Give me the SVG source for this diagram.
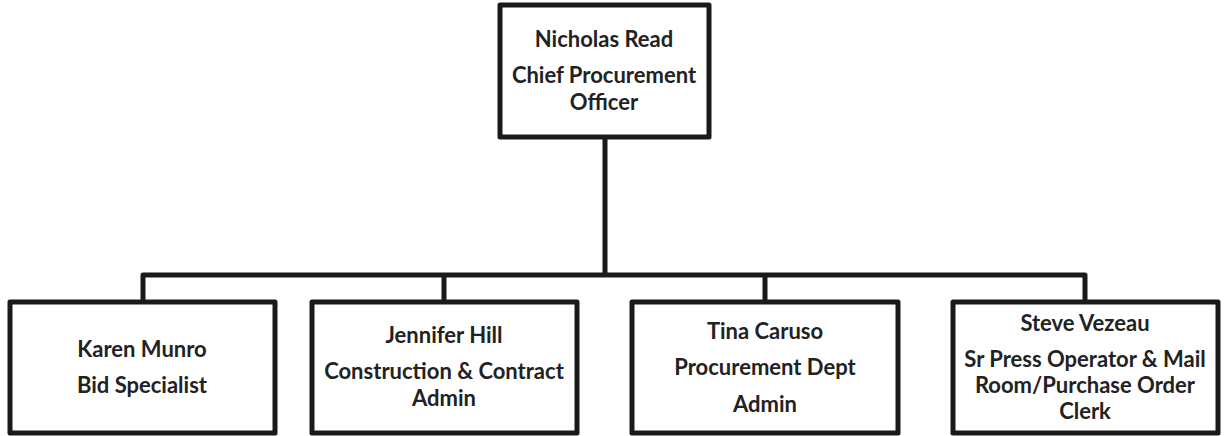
<svg xmlns="http://www.w3.org/2000/svg" width="1224" height="436" viewBox="0 0 1224 436">
<style>
.box{fill:#fff;stroke:#1a1a1a;stroke-width:5;stroke-linejoin:round}
.con{fill:none;stroke:#1a1a1a;stroke-width:5;stroke-linejoin:round}
text{font-family:Lato,"Liberation Sans",sans-serif;font-weight:bold;font-size:22px;fill:#222;text-anchor:middle}
</style>
<rect width="1224" height="436" fill="#fff"/>
<g id="connectors">
<path class="con" d="M605 137V275"/>
<path class="con" d="M143 302V275H1085V302"/>
<path class="con" d="M444 275V302"/>
<path class="con" d="M765 275V302"/>
</g>
<g id="n-read">
<rect class="box" x="500" y="5" width="209" height="132"/>
<text x="604" y="47">Nicholas Read</text>
<text x="604" y="83">Chief Procurement</text>
<text x="604" y="110">Officer</text>
</g>
<g id="n-munro">
<rect class="box" x="10" y="302" width="265" height="131"/>
<text x="142" y="357">Karen Munro</text>
<text x="142" y="393">Bid Specialist</text>
</g>
<g id="n-hill">
<rect class="box" x="312" y="302" width="265" height="131"/>
<text x="444" y="343">Jennifer Hill</text>
<text x="444" y="379">Construction &amp; Contract</text>
<text x="444" y="406">Admin</text>
</g>
<g id="n-caruso">
<rect class="box" x="632" y="302" width="266" height="131"/>
<text x="765" y="339">Tina Caruso</text>
<text x="765" y="375">Procurement Dept</text>
<text x="765" y="412">Admin</text>
</g>
<g id="n-vezeau">
<rect class="box" x="953" y="302" width="265" height="131"/>
<text x="1085" y="331">Steve Vezeau</text>
<text x="1085" y="367">Sr Press Operator &amp; Mail</text>
<text x="1085" y="393">Room/Purchase Order</text>
<text x="1085" y="419">Clerk</text>
</g>
</svg>
